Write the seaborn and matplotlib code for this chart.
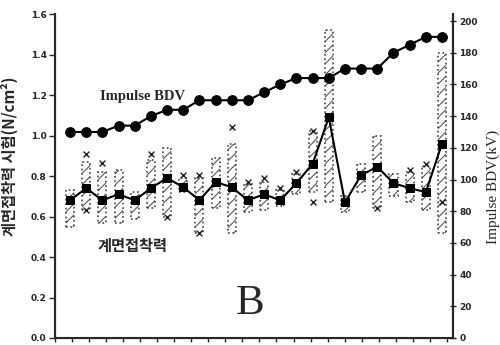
import numpy as np
import pandas as pd
import matplotlib
matplotlib.use("Agg")
import matplotlib.pyplot as plt
import seaborn as sns

# 시료 번호
sample = list(range(1, 25))

# Impulse BDV (kV), 오른쪽 축
bdv_kv = [130, 130, 130, 134, 134, 140, 144, 144, 150, 150, 150, 150,
          155, 160, 164, 164, 164, 170, 170, 170, 180, 185, 190, 190]

# 계면접착력 (N/cm2), 왼쪽 축
adh_mean = [0.68, 0.74, 0.68, 0.71, 0.68, 0.74, 0.79, 0.745, 0.68, 0.77, 0.745, 0.68,
            0.71, 0.68, 0.765, 0.86, 1.09, 0.67, 0.805, 0.845, 0.765, 0.74, 0.72, 0.96]
adh_low = [0.55, 0.63, 0.57, 0.57, 0.59, 0.64, 0.60, 0.72, 0.52, 0.64, 0.52, 0.62,
           0.63, 0.65, 0.71, 0.72, 0.67, 0.62, 0.72, 0.64, 0.70, 0.67, 0.63, 0.52]
adh_high = [0.73, 0.87, 0.82, 0.83, 0.72, 0.88, 0.94, 0.79, 0.79, 0.89, 0.96, 0.76,
            0.77, 0.73, 0.81, 1.02, 1.52, 0.70, 0.86, 1.00, 0.81, 0.82, 0.85, 1.41]
x_top = [np.nan, 0.91, 0.866, np.nan, np.nan, 0.91, np.nan, 0.805, 0.805, np.nan, 1.04, 0.77,
         0.79, 0.74, 0.82, 1.02, np.nan, np.nan, np.nan, np.nan, np.nan, 0.83, 0.86, np.nan]
x_bot = [np.nan, 0.63, np.nan, np.nan, np.nan, np.nan, 0.60, np.nan, 0.52, np.nan, np.nan, np.nan,
         np.nan, np.nan, np.nan, 0.67, np.nan, np.nan, np.nan, 0.64, np.nan, np.nan, np.nan, 0.67]

df = pd.DataFrame({"sample": sample, "bdv": bdv_kv, "mean": adh_mean,
                   "low": adh_low, "high": adh_high, "xtop": x_top, "xbot": x_bot})

sns.set_style("ticks")
plt.rcParams['font.family'] = ['Noto Sans CJK KR', 'DejaVu Sans']
plt.rcParams['hatch.linewidth'] = 0.7
plt.rcParams['hatch.color'] = '#555555'

fig = plt.figure(figsize=(5, 3.45), dpi=100)
ax = fig.add_axes([0.11, 0.0203, 0.796, 0.939])

# 계면접착력 범위 (빗금 상자)
ax.bar(df["sample"], df["high"] - df["low"], bottom=df["low"], width=0.5,
       fill=False, hatch="///", edgecolor="#444444", linestyle=":", linewidth=1.2)
sns.lineplot(data=df, x="sample", y="mean", ax=ax, color="black", linewidth=1.5,
             marker="s", markersize=5.5, markeredgecolor="black")
sns.scatterplot(data=df, x="sample", y="xtop", ax=ax, marker="x", color="#222222", s=18, linewidth=1)
sns.scatterplot(data=df, x="sample", y="xbot", ax=ax, marker="x", color="#222222", s=18, linewidth=1)

ax.set_xlim(0.07, 24.68)
ax.set_ylim(0, 1.6)
ax.set_yticks(np.arange(0, 1.61, 0.2))
ax.set_yticklabels([f"{v:.1f}" for v in np.arange(0, 1.61, 0.2)],
                   fontsize=6.5, fontweight="bold", family="DejaVu Sans")
ax.set_xticks(np.linspace(0.07, 24.3, 24))
ax.set_xticklabels([])
ax.tick_params(axis="x", direction="out", length=3, width=1)
ax.tick_params(axis="y", direction="out", length=4, width=1, pad=2)
ax.set_xlabel("")
ax.set_ylabel("계면접착력 시험(N/cm²)", fontsize=11, fontweight="bold")
ax.yaxis.set_label_coords(-0.093, 0.56)
ax.spines["top"].set_visible(False)
for s in ["left", "bottom", "right"]:
    ax.spines[s].set_linewidth(1.5)

# Impulse BDV (오른쪽 축)
ax2 = ax.twinx()
sns.lineplot(data=df, x="sample", y="bdv", ax=ax2, color="black", linewidth=1.5,
             marker="o", markersize=7, markeredgecolor="black")
ax2.set_ylim(0, 204.4)
ax2.set_yticks(range(0, 201, 20))
ax2.set_yticklabels([str(v) for v in range(0, 201, 20)],
                    fontsize=6.5, fontweight="bold", family="DejaVu Sans")
ax2.tick_params(axis="y", direction="inout", length=5, width=1, pad=2)
ax2.set_ylabel("Impulse BDV(kV)", fontsize=11, family="Liberation Serif")
ax2.yaxis.set_label_coords(1.085, 0.466)
ax2.spines["top"].set_visible(False)
ax2.spines["right"].set_linewidth(1.5)

ax.text(0.112, 0.747, "Impulse BDV", transform=ax.transAxes, fontsize=10.5,
        fontweight="bold", family="Liberation Serif", ha="left", va="center")
ax.text(0.108, 0.284, "계면접착력", transform=ax.transAxes, fontsize=11,
        fontweight="bold", ha="left", va="center")
ax.text(0.455, 0.045, "B", transform=ax.transAxes, fontsize=31,
        family="Liberation Serif", ha="left", va="bottom")

fig.savefig("out.png", dpi=100)
